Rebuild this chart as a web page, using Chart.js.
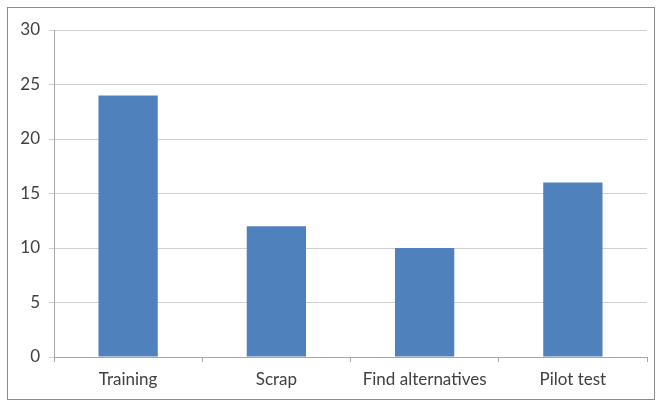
<!DOCTYPE html>
<html>
<head>
<meta charset="utf-8">
<script src="https://cdn.jsdelivr.net/npm/chart.js@4/dist/chart.umd.min.js"></script>
<style>
  html, body { margin: 0; padding: 0; background: #ffffff; }
  #wrap { width: 660px; height: 403px; position: relative; }
</style>
</head>
<body>
<div id="wrap"><canvas id="chart" width="660" height="403"></canvas></div>
<script>
// Categories and their values
const categories = ["Training", "Scrap", "Find alternatives", "Pilot test"];
const values = [24, 12, 10, 16];
const yTicks = [0, 5, 10, 15, 20, 25, 30];

// Thin grey frame around the whole chart
const framePlugin = {
  id: 'frame',
  beforeDraw(chart) {
    const ctx = chart.ctx;
    ctx.save();
    ctx.fillStyle = '#ffffff';
    ctx.fillRect(0, 0, chart.width, chart.height);
    ctx.strokeStyle = '#8c8c8c';
    ctx.lineWidth = 1;
    ctx.strokeRect(7.5, 7.5, 647, 392);
    ctx.restore();
  }
};

const textColor = '#404040';
const font = { family: 'Lato, "Open Sans", sans-serif', size: 17 };

new Chart(document.getElementById('chart'), {
  type: 'bar',
  data: {
    labels: categories,
    datasets: [{
      data: values,
      backgroundColor: '#4f81bd',
      borderWidth: 0,
      barPercentage: 0.8,
      categoryPercentage: 0.5
    }]
  },
  options: {
    responsive: false,
    animation: false,
    layout: { padding: { left: 0, right: 13, top: 30, bottom: 0 } },
    plugins: { legend: { display: false }, tooltip: { enabled: false } },
    scales: {
      x: {
        grid: { display: true, drawOnChartArea: false, drawTicks: true, tickLength: 5, color: '#a6a6a6' },
        border: { display: true, color: '#a6a6a6' },
        ticks: { color: textColor, font: font, padding: 7, maxRotation: 0 },
        afterFit(scale) { scale.height = 46; }
      },
      y: {
        min: 0,
        max: 30,
        afterBuildTicks(scale) { scale.ticks = yTicks.map(v => ({ value: v })); },
        grid: { color: '#d0d0d0', tickLength: 5, drawTicks: true },
        border: { display: true, color: '#a6a6a6' },
        ticks: { color: textColor, font: font, padding: 9 },
        afterFit(scale) { scale.width = 54; }
      }
    }
  },
  plugins: [framePlugin]
});
</script>
</body>
</html>
